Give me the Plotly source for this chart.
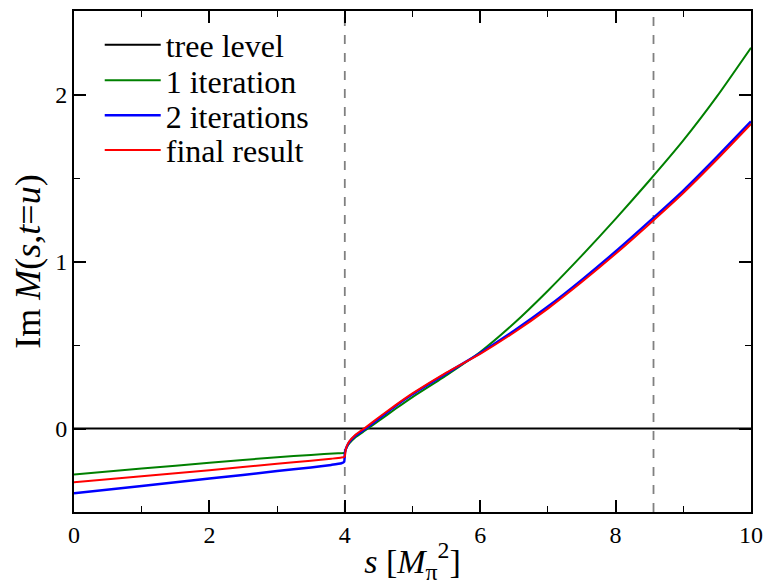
import plotly.graph_objects as go

# ---- data ----
tree_s = [0, 10]
tree_y = [0, 0]

green_s = [0, 1, 2, 3, 3.5, 3.9, 4.0, 4.01, 4.03, 4.07, 4.15, 4.3, 4.5, 4.75, 5, 5.5, 6, 6.5, 7, 7.5, 8, 8.5, 9, 9.5, 10]
green_y = [-0.276, -0.240, -0.205, -0.172, -0.158, -0.148, -0.145, -0.13, -0.112, -0.088, -0.055, -0.012, 0.045, 0.118, 0.188, 0.318, 0.458, 0.630, 0.825, 1.035, 1.255, 1.485, 1.725, 1.990, 2.28]

blue_s = [0, 1, 2, 3, 3.5, 3.8, 3.95, 3.99, 4.0, 4.01, 4.03, 4.07, 4.15, 4.3, 4.5, 4.75, 5, 5.5, 6, 6.5, 7, 7.5, 8, 8.5, 9, 9.5, 10]
blue_y = [-0.388, -0.344, -0.300, -0.255, -0.233, -0.218, -0.208, -0.200, -0.150, -0.13, -0.108, -0.080, -0.045, -0.003, 0.058, 0.135, 0.205, 0.330, 0.452, 0.585, 0.730, 0.890, 1.060, 1.240, 1.425, 1.628, 1.839]

red_s = [0, 1, 2, 3, 3.5, 3.8, 3.95, 4.0, 4.01, 4.03, 4.07, 4.15, 4.3, 4.5, 4.75, 5, 5.5, 6, 6.5, 7, 7.5, 8, 8.5, 9, 9.5, 10]
red_y = [-0.322, -0.286, -0.250, -0.211, -0.193, -0.181, -0.174, -0.168, -0.135, -0.105, -0.075, -0.040, 0.004, 0.066, 0.140, 0.210, 0.335, 0.447, 0.575, 0.718, 0.877, 1.046, 1.225, 1.410, 1.612, 1.823]

vlines_s = [4.0, 8.56]

x_ticks = [0, 2, 4, 6, 8, 10]
y_ticks = [0, 1, 2]

series_names = ["tree level", "1 iteration", "2 iterations", "final result"]

FONT = "Liberation Serif"

fig = go.Figure()
fig.add_trace(go.Scatter(x=tree_s, y=tree_y, mode="lines", name=series_names[0], legend="legend",
                         line=dict(color="black", width=2)))
fig.add_trace(go.Scatter(x=green_s, y=green_y, mode="lines", name=series_names[1], legend="legend2",
                         line=dict(color="#008000", width=2, shape="spline", smoothing=0.5)))
fig.add_trace(go.Scatter(x=blue_s, y=blue_y, mode="lines", name=series_names[2], legend="legend3",
                         line=dict(color="#0000ff", width=2.5, shape="spline", smoothing=0.5)))
fig.add_trace(go.Scatter(x=red_s, y=red_y, mode="lines", name=series_names[3], legend="legend4",
                         line=dict(color="#ff0000", width=2, shape="spline", smoothing=0.5)))

for xv in vlines_s:
    fig.add_shape(type="line", xref="x", yref="paper", x0=xv, x1=xv, y0=0, y1=1,
                  line=dict(color="#808080", width=1.8, dash="dash"), layer="below")

def leg(yc):
    return dict(x=0.038, y=yc, xanchor="left", yanchor="middle",
                bgcolor="rgba(0,0,0,0)", font=dict(family=FONT, size=32, color="black"),
                itemwidth=56, tracegroupgap=0, borderwidth=0)

fig.update_layout(
    width=772, height=588,
    margin=dict(l=74, r=16, t=9, b=76),
    paper_bgcolor="white", plot_bgcolor="white",
    font=dict(family=FONT, size=24, color="black"),
    showlegend=True,
    legend=leg(0.9324), legend2=leg(0.8614), legend3=leg(0.7913), legend4=leg(0.7223),
    xaxis=dict(range=[0, 10], tickvals=x_ticks, ticks="inside", ticklen=12, tickwidth=1.5,
               tickcolor="black", showline=True, linecolor="black", linewidth=2,
               mirror="ticks", showgrid=False, zeroline=False,
               minor=dict(dtick=1, ticks="inside", ticklen=6, tickwidth=1.2, tickcolor="black"),
               tickfont=dict(family=FONT, size=24),
               title=dict(text="<i>s</i> [<i>M</i><sub>π</sub><sup>2</sup>]",
                          font=dict(family=FONT, size=34), standoff=2)),
    yaxis=dict(range=[-0.5, 2.5], tickvals=y_ticks, ticks="inside", ticklen=12, tickwidth=1.5,
               tickcolor="black", showline=True, linecolor="black", linewidth=2,
               mirror="ticks", showgrid=False, zeroline=False,
               minor=dict(dtick=0.5, ticks="inside", ticklen=6, tickwidth=1.2, tickcolor="black"),
               tickfont=dict(family=FONT, size=24),
               title=dict(text="Im <i>M</i>(<i>s</i>,<i>t</i>=<i>u</i>)",
                          font=dict(family=FONT, size=36), standoff=4)),
)

fig.write_html("out.html")
